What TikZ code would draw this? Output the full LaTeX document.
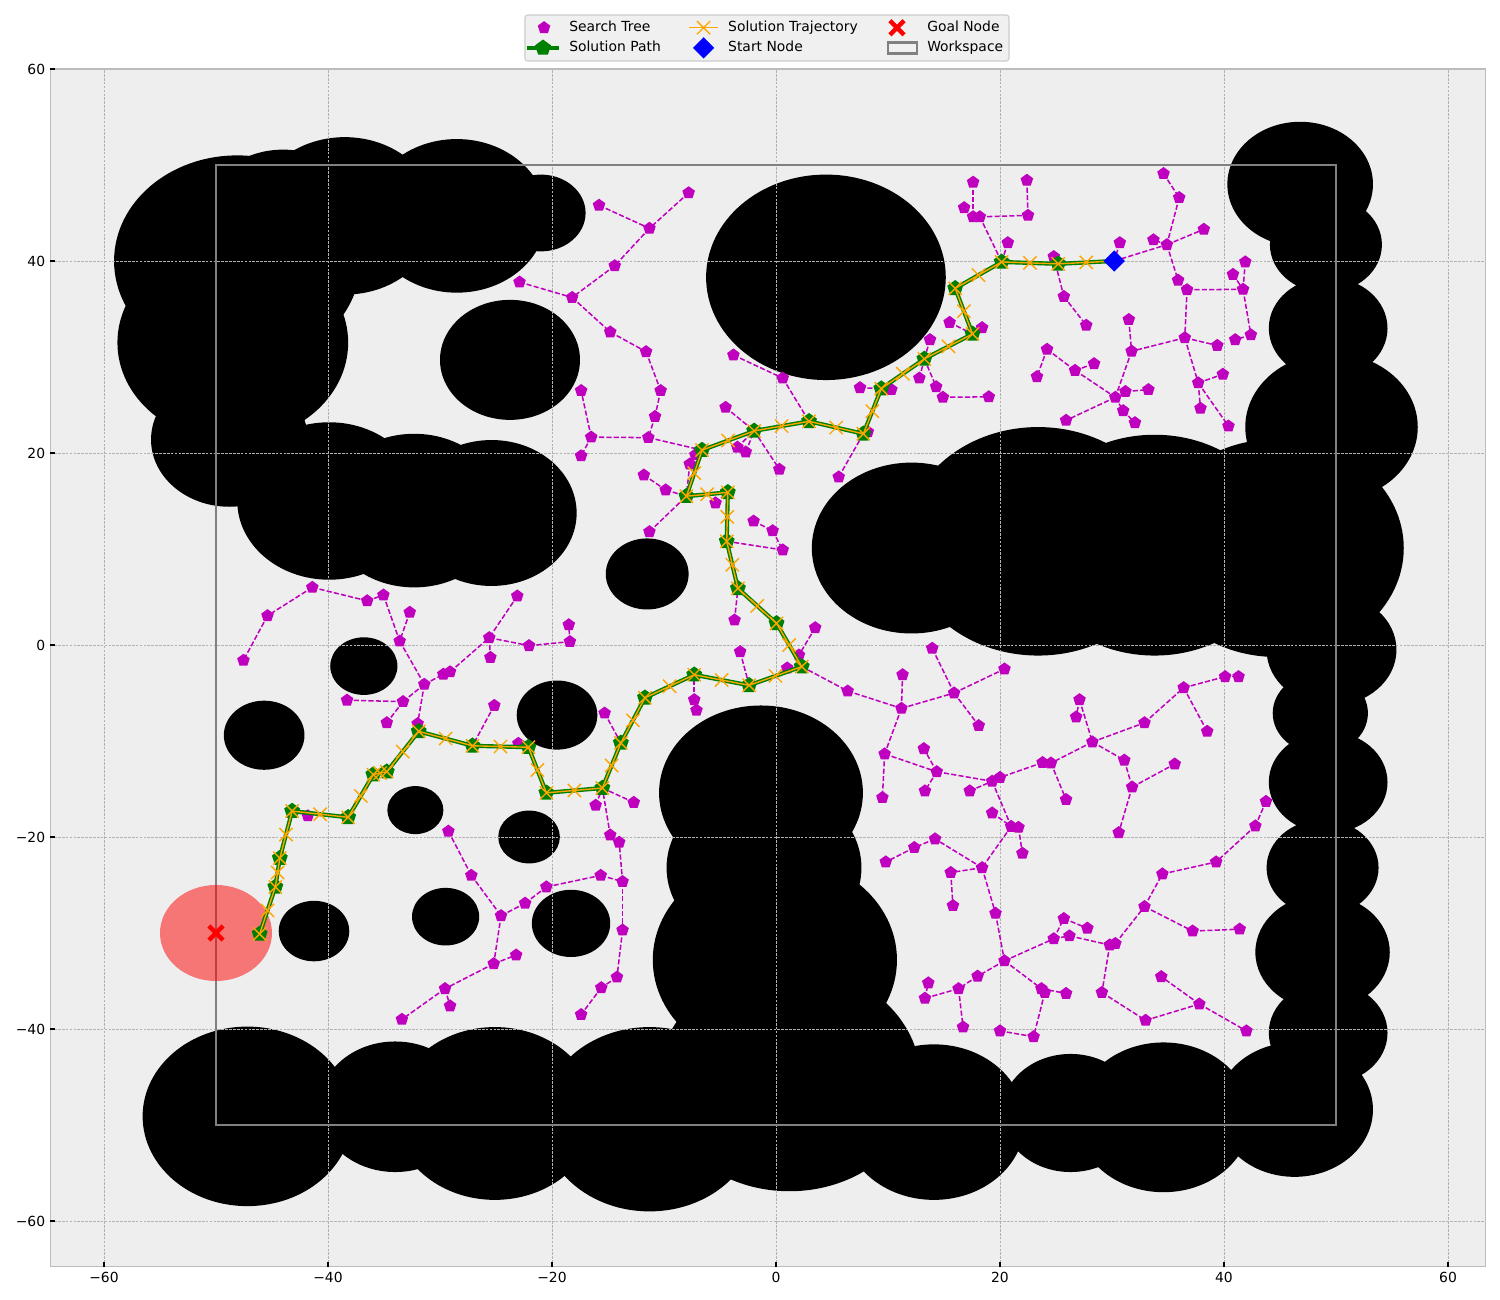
\documentclass[tikz,border=0pt]{standalone}
\usepackage{fontspec}
\setmainfont{DejaVu Sans}
\usetikzlibrary{shapes.geometric,shapes.misc,calc}
\definecolor{axbg}{HTML}{EEEEEE}
\definecolor{gridc}{HTML}{B2B2B2}
\definecolor{spinec}{HTML}{BCBCBC}
\definecolor{legbg}{HTML}{F0F0F0}
\definecolor{legedge}{HTML}{CCCCCC}
\definecolor{treemag}{rgb}{0.75,0,0.75}
\definecolor{pathgreen}{rgb}{0,0.5,0}
\definecolor{trajorange}{HTML}{FFA500}
\definecolor{wsgray}{HTML}{808080}
\tikzset{
  obst/.style={fill=black},
  gridline/.style={draw=gridc,line width=0.5pt,dash pattern=on 1.9pt off 0.9pt},
  spine/.style={draw=spinec,line width=1pt},
  tickmark/.style={draw=black,line width=0.8pt},
  ticklab/.style={inner sep=0pt,font=\fontsize{10}{12}\selectfont},
  workspace/.style={draw=wsgray,line width=2pt},
  goalzone/.style={fill=red,fill opacity=0.5},
  treeedge/.style={draw=treemag,line width=1.1pt,dash pattern=on 3.7pt off 1.6pt},
  treenode/.style={regular polygon,regular polygon sides=5,fill=treemag,draw=none,minimum size=9.5pt,inner sep=0pt},
  pathline/.style={draw=pathgreen,line width=3pt,line join=round},
  pathnode/.style={regular polygon,regular polygon sides=5,fill=pathgreen,draw=none,minimum size=12pt,inner sep=0pt},
  trajline/.style={draw=trajorange,line width=1pt,line join=round},
  trajmark/.style={cross out,draw=trajorange,line width=1pt,minimum size=8.5pt,inner sep=0pt},
  startmark/.style={diamond,fill=blue,draw=none,minimum width=15.5pt,minimum height=15.5pt,inner sep=0pt},
  goalmark/.style={cross out,draw=red,line width=3.2pt,minimum size=7pt,inner sep=0pt},
  legframe/.style={draw=legedge,fill=legbg,line width=0.8pt,rounded corners=2pt},
  legtext/.style={anchor=mid west,inner sep=0pt,font=\fontsize{10}{12}\selectfont},
}
% search tree data
\def\treenodes{a1/-15.8/45.8, a2/-11.3/43.4, a3/-7.8/47.1, a4/-14.4/39.5, a5/-18.2/36.2,
  a6/-22.9/37.8, a7/-14.8/32.6, a8/-11.6/30.55, a9/-10.3/26.5, a10/-10.8/23.8,
  a11/-11.4/21.6, a12/-16.5/21.65, a13/-17.4/26.5, a14/-17.4/19.7, a15/-7.2/19.8, a16/-7.7/18.85,
  b1/-3.8/30.2, b2/0.6/27.8, b3/-4.5/24.75, b4/-3.45/20.6, b5/-2.7/20.1, b6/0.3/18.3,
  b7/5.6/17.5, b8/7.5/26.8, b9/10.3/26.6, b10/8.2/22.2, b11/12.8/27.8, b12/13.75/31.8,
  b13/14.3/26.9, b14/14.9/25.8, b15/19.0/25.85, b16/15.5/33.6, b17/18.4/33.05, b18/17.6/48.2,
  b19/16.8/45.55, b20/17.6/44.6, b21/18.2/44.6, b22/22.4/48.4, b23/22.5/44.75, b24/20.7/41.9,
  c1/24.8/40.45, c2/25.7/36.3, c3/27.7/33.3, c4/30.7/41.9, c5/34.6/49.1, c6/36.0/46.6,
  c7/34.9/41.7, c8/33.7/42.2, c9/38.2/43.3, c10/35.9/38.0, c11/36.7/37.0, c12/41.7/37.05,
  c13/40.8/38.6, c14/41.9/39.9, c15/36.5/32.0, c16/39.4/31.2, c17/42.4/32.3, c18/41.0/31.8,
  c19/31.5/33.9, c20/31.75/30.6, c21/24.2/30.8, c22/23.3/27.95, c23/26.7/28.6, c24/28.4/29.3,
  c25/30.3/25.8, c26/31.2/26.4, c27/33.25/26.6, c28/31.0/24.4, c29/32.05/23.15, c30/25.9/23.4,
  c31/37.7/27.3, c32/39.9/28.2, c33/37.9/24.65, c34/40.4/22.8,
  d1/-41.4/6.0, d2/-45.4/3.05, d3/-47.55/-1.6, d4/-36.5/4.6, d5/-35.05/5.2, d6/-32.7/3.4,
  d7/-33.6/0.4, d8/-31.4/-4.1, d9/-33.3/-5.9, d10/-38.3/-5.75, d11/-34.75/-8.1, d12/-32.0/-8.2,
  d13/-29.7/-3.05, d14/-29.1/-2.8, d15/-25.6/0.76, d16/-25.5/-1.3, d17/-22.05/-0.07,
  d18/-23.1/5.1, d19/-25.15/-6.3, d20/-29.25/-19.4, d21/-27.2/-24.0, d22/-41.8/-17.8,
  d23/-23.0/-10.25, d24/-18.4/0.35, d25/-18.5/2.1,
  e1/-24.55/-28.2, e2/-22.4/-26.9, e3/-25.2/-33.2, e4/-23.2/-32.3, e5/-29.55/-35.8,
  e6/-29.1/-37.6, e7/-33.4/-39.0, e8/-20.5/-25.2, e9/-15.65/-24.0, e10/-13.7/-24.65,
  e11/-13.7/-29.7, e12/-14.2/-34.6, e13/-15.6/-35.7, e14/-17.4/-38.5, e15/-14.0/-20.55,
  e16/-14.8/-19.8, e17/-16.1/-16.7, e18/-12.7/-16.4, e19/-15.3/-7.1,
  f1/-11.8/17.7, f2/-9.85/16.15, f3/-11.3/11.8, f4/-5.4/14.8, f5/-2.0/12.9, f6/-0.3/11.9,
  f7/0.6/9.9, f8/-3.7/2.6, f9/3.5/1.8, f10/2.05/-1.05, f11/1.0/-2.4, f12/-3.2/-0.7,
  f13/-7.3/-5.7, f14/-7.1/-6.8,
  g1/6.4/-4.8, g2/11.2/-6.6, g3/11.3/-3.1, g4/15.9/-5.0, g5/13.95/-0.35, g6/18.1/-8.4,
  g7/20.4/-2.5, g8/9.7/-11.35, g9/9.5/-15.9, g10/14.35/-13.2, g11/13.2/-10.8, g12/13.3/-15.2,
  g13/17.3/-15.2, g14/19.3/-14.2, g15/20.0/-13.8, g16/19.3/-17.5, g17/21.0/-18.9,
  g18/21.65/-19.0, g19/22.0/-21.7, g20/18.4/-23.2, g21/14.2/-20.2, g22/12.35/-21.1,
  g23/9.8/-22.6, g24/15.6/-23.7, g25/15.8/-27.15, g26/19.6/-27.95, g27/20.4/-32.9,
  g28/18.0/-34.5, g29/16.3/-35.8, g30/13.3/-36.8, g31/13.6/-35.2, g32/16.7/-39.8,
  g33/20.0/-40.2, g34/23.0/-40.8, g35/23.7/-35.8, g36/24.0/-36.2, g37/25.9/-36.3,
  g38/24.8/-30.6, g39/25.7/-28.5, g40/27.8/-29.5, g41/26.2/-30.3, g42/29.8/-31.25,
  g43/30.3/-31.1, g44/29.1/-36.2, g45/33.0/-39.1, g46/37.8/-37.4, g47/34.4/-34.55,
  g48/42.0/-40.2, g49/32.9/-27.25, g50/34.5/-23.85, g51/39.3/-22.6, g52/37.2/-29.8, g53/41.4/-29.6,
  h1/27.1/-5.7, h2/26.8/-7.5, h3/28.25/-10.1, h4/32.9/-8.1, h5/36.4/-4.45, h6/40.1/-3.3,
  h7/41.3/-3.3, h8/38.5/-9.0, h9/31.1/-12.0, h10/31.8/-14.8, h11/35.6/-12.4, h12/30.6/-19.55,
  h13/23.8/-12.25, h14/24.55/-12.3, h15/25.9/-16.1, h16/43.75/-16.3, h17/42.8/-18.85}
\def\treeedges{a1/a2, a3/a2, a2/a4, a4/a5, a6/a5, a5/a7, a7/a8, a8/a9, a9/a10, a10/a11,
  a11/a12, a12/a13, a12/a14, a11/p10, a15/p10, a16/p11,
  b1/b2, b2/p8, b3/p9, b4/p9, b5/p9, p9/b6, b7/p7, b8/p6, b9/p6, b10/p7, b11/p5, b12/p5,
  p5/b13, b13/b14, b14/b15, b16/p4, b17/p4, b18/b20, b19/b20, b20/b21, b21/b23, b21/p2,
  b22/b23, b24/p2,
  c1/p1, c1/c2, c2/c3, c4/p0, p0/c7, c5/c6, c6/c7, c7/c8, c7/c9, c7/c10, c10/c11, c11/c12,
  c13/c12, c14/c12, c12/c17, c17/c18, c11/c15, c15/c16, c15/c20, c19/c20, c20/c25, c25/c26,
  c26/c27, c25/c28, c28/c29, c21/c23, c21/c22, c23/c24, c23/c25, c25/c30, c15/c31, c31/c32,
  c31/c33, c31/c34,
  d1/d2, d2/d3, d1/d4, d4/d5, d5/d7, d6/d7, d7/d8, d8/d9, d9/d10, d9/d11, d8/d12, d12/p25,
  d8/d13, d13/d14, d14/d15, d15/d16, d15/d17, d18/d15, d17/d24, d24/d25, d19/p24, d20/d21,
  d22/p29, d23/p23,
  d21/e1, e1/e2, e2/e8, e8/e9, e9/e10, e10/e15, e15/e16, e16/p21, e1/e3, e3/e4, e3/e5,
  e5/e6, e5/e7, e10/e11, e11/e12, e12/e13, e13/e14, e17/p21, e18/p21, e19/p20,
  f1/f2, f2/p11, f3/p11, f4/p12, f5/f6, f6/f7, f7/p13, f8/p14, f9/f10, f10/p16, f11/p16,
  f12/p17, f13/f14, f13/p18,
  p16/g1, g1/g2, g2/g3, g2/g4, g4/g5, g4/g6, g4/g7, g2/g8, g8/g9, g8/g10, g10/g11, g10/g12,
  g10/g14, g13/g14, g14/g15, g14/g17, g16/g17, g17/g18, g18/g19, g17/g20, g20/g21, g21/g22,
  g22/g23, g20/g24, g24/g25, g20/g26, g26/g27, g27/g28, g28/g29, g29/g30, g30/g31, g29/g32,
  g27/g38, g38/g39, g39/g40, g38/g41, g41/g42, g42/g43, g27/g35, g35/g37, g35/g36, g36/g34,
  g34/g33, g42/g44, g44/g45, g45/g46, g46/g47, g46/g48, g43/g49, g49/g50, g50/g51, g49/g52,
  g52/g53,
  h1/h2, h1/h3, h3/h4, h4/h5, h5/h6, h6/h7, h5/h8, h3/h9, h9/h10, h10/h11, h10/h12, h3/h14,
  h13/h14, h14/h15, h13/g15, h16/h17, h17/g51}
\begin{document}
\begin{tikzpicture}[x=8.064pt,y=6.912pt]
\useasboundingbox (-69.286,-68.229) rectangle (64.643,67.1875);
\fill[white] (-69.286,-68.229) rectangle (64.643,67.1875);
\fill[axbg] (-64.8,-64.76) rectangle (63.35,60);

% obstacles
\foreach \cx/\cy/\r in {-48.1/40.0/11, -48.5/31.5/10.3, -48.8/21.4/7, -44/44.3/7.3,
  -38.5/44.7/8.2, -28.5/44.7/8, -21/45/4, -23.75/29.7/6.25, -39.9/15.0/8.2, -32.3/14.0/8,
  -25.4/13.75/7.6, -36.8/-2.2/3, -45.7/-9.4/3.6, -32.2/-17.2/2.5, -22.05/-20/2.75,
  -19.55/-7.3/3.6, -11.5/7.4/3.7, 4.46/38.3/10.7, -1.34/-15.4/9.1, -1.07/-23.2/8.7,
  -0.1/-32.8/10.9, 1.2/-45.2/11.7, 14.1/-49.7/8.1, -11.3/-49.4/9.6, -47.2/-49.1/9.35,
  -34.0/-48.1/6.8, -25.1/-48.8/9, -41.25/-29.8/3.15, -29.5/-28.3/3, -18.3/-29.0/3.5,
  12.1/10.1/8.9, 23.4/10.8/11.9, 33.8/10.4/11.5, 44.7/10.1/11.35, 49.6/-0.5/5.8,
  46.8/48.0/6.5, 49.1/41.7/5, 49.3/33.0/5.3, 49.6/22.7/7.7, 48.6/-7.1/4.25,
  49.3/-14.3/5.3, 48.8/-23.2/5, 48.8/-32.0/6, 49.3/-40.4/5.3, 46.3/-48.4/7,
  34.6/-49.2/7.8, 26.3/-48.75/6.15}
  \fill[obst] (\cx,\cy) circle [radius=\r];

% grid, frame and ticks
\foreach \v in {-60,-40,...,60} {
  \draw[gridline] (\v,-64.76) -- (\v,60);
  \draw[gridline] (-64.8,\v) -- (63.35,\v);
}
\draw[spine] (-64.8,-64.76) rectangle (63.35,60);
\foreach \v/\t in {-60/−60, -40/−40, -20/−20, 0/0, 20/20, 40/40, 60/60} {
  \draw[tickmark] (\v,-64.76) -- ++(0,3.5pt);
  \draw[tickmark] (-64.8,\v) -- ++(3.5pt,0);
  \node[ticklab,anchor=north] (xl\v) at ([yshift=-3.5pt]\v,-64.76) {\t};
  \node[ticklab,anchor=east] (yl\v) at ([xshift=-3.5pt]-64.8,\v) {\t};
}

\draw[workspace] (-50,-50) rectangle (50,50);
\fill[goalzone] (-50,-30) circle [radius=5];

% solution waypoints, start first
\foreach \n/\x/\y in {0/30.2/40.0, 1/25.2/39.7, 2/20.15/39.9, 3/16.0/37.15, 4/17.55/32.4,
  5/13.25/29.8, 6/9.4/26.7, 7/7.8/22.0, 8/2.95/23.3, 9/-1.95/22.3, 10/-6.6/20.3,
  11/-8.0/15.5, 12/-4.3/15.9, 13/-4.4/10.8, 14/-3.4/5.9, 15/0.05/2.25, 16/2.3/-2.25,
  17/-2.4/-4.2, 18/-7.3/-3.1, 19/-11.7/-5.5, 20/-13.85/-10.2, 21/-15.5/-14.9,
  22/-20.5/-15.4, 23/-22.1/-10.65, 24/-27.1/-10.5, 25/-31.9/-9.0, 26/-34.75/-13.2,
  27/-35.95/-13.5, 28/-38.2/-17.95, 29/-43.2/-17.3, 30/-44.3/-22.2, 31/-44.7/-25.2,
  32/-46.1/-30.1}
  \coordinate (p\n) at (\x,\y);

% search tree
\foreach \n/\x/\y in \treenodes
  \coordinate (\n) at (\x,\y);
\foreach \a/\b in \treeedges
  \draw[treeedge] (\a) -- (\b);
\foreach \n/\x/\y in \treenodes
  \node[treenode] (m\n) at (\n) {};

% solution path and trajectory
\draw[pathline] (p0) \foreach \k in {1,...,32} { -- (p\k) };
\foreach \k in {1,...,32}
  \node[pathnode] (pp\k) at (p\k) {};
\draw[trajline] (p0) \foreach \k in {1,...,32} { -- (p\k) };
\foreach \k [remember=\k as \j (initially 0)] in {1,...,32} {
  \node[trajmark] (tm\k) at ($(p\j)!0.5!(p\k)$) {};
  \node[trajmark] (tw\k) at (p\k) {};
}
\node[startmark] (start) at (p0) {};
\node[goalmark] (goal) at (-50,-30) {};

% legend
\draw[legframe] (-22.41,60.83) rectangle (20.80,65.625);
\node[treenode] (lgtree) at (-20.71,64.3) {};
\node[legtext] (lttree) at (-18.48,64.3) {Search Tree};
\draw[pathline] (-22.23,62.2) -- (-19.375,62.2);
\node[pathnode] (lgpath) at (-20.8,62.2) {};
\node[legtext] (ltpath) at (-18.48,62.2) {Solution Path};
\draw[trajline] (-7.77,64.3) -- (-5.18,64.3);
\node[trajmark] (lgtraj) at (-6.47,64.3) {};
\node[legtext] (lttraj) at (-4.29,64.3) {Solution Trajectory};
\node[startmark] (lgstart) at (-6.47,62.2) {};
\node[legtext] (ltstart) at (-4.29,62.2) {Start Node};
\node[goalmark] (lggoal) at (10.8,64.3) {};
\node[legtext] (ltgoal) at (13.48,64.3) {Goal Node};
\draw[workspace] (10.0,61.64) rectangle (12.59,62.78);
\node[legtext] (ltws) at (13.48,62.2) {Workspace};
\end{tikzpicture}
\end{document}
